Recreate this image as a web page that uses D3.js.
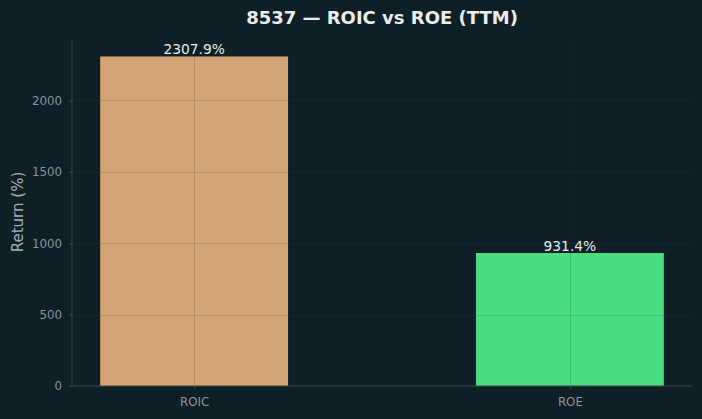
<!DOCTYPE html>
<html>
<head>
	<meta charset="utf-8">
	<style>
		body { margin: 0; background: #0f1f26; }
		svg { display: block; }
		svg text { font-family: 'DejaVu Sans', sans-serif; }
	</style>
</head>
<body>
	<div id="chart"></div>

	<script src="https://cdn.jsdelivr.net/npm/d3@7/dist/d3.min.js"></script>
	<script>
		const categories = ['ROIC', 'ROE'];
		const values = [2307.9, 931.4];
		const barColors = ['#d4a574', '#4ade80'];
		const yTicks = [0, 500, 1000, 1500, 2000];

		const W = 702;
		const H = 419;
		const margin = { left: 72, top: 40, right: 10, bottom: 33 };
		const w = W - margin.left - margin.right;
		const h = H - margin.top - margin.bottom;

		const svg = d3.select('#chart')
			.append('svg')
			.attr('width', W)
			.attr('height', H);

		svg.append('rect').attr('width', W).attr('height', H).attr('fill', '#0f1f26');

		const g = svg.append('g')
			.attr('transform', `translate(${margin.left}, ${margin.top})`);

		// bar positions 0..n-1, width 0.5, with 5% margins
		const x = d3.scaleLinear()
			.domain([-0.325, categories.length - 1 + 0.325])
			.range([0, w]);

		const y = d3.scaleLinear()
			.domain([0, d3.max(values) * 1.05])
			.range([h, 0]);

		const bw = x(0.5) - x(0);

		g.selectAll('rect.bar')
			.data(values)
			.enter()
			.append('rect')
			.attr('class', 'bar')
			.attr('x', (d, i) => x(i) - bw / 2)
			.attr('y', d => y(d))
			.attr('width', bw)
			.attr('height', d => h - y(d))
			.attr('fill', (d, i) => barColors[i]);

		// grid drawn over the bars
		const grid = g.append('g').attr('stroke', '#1a2a30').attr('stroke-opacity', 0.18).attr('stroke-width', 1);
		yTicks.forEach(t => {
			grid.append('line').attr('x1', 0).attr('x2', w).attr('y1', Math.round(y(t)) + 0.5).attr('y2', Math.round(y(t)) + 0.5);
		});
		categories.forEach((c, i) => {
			grid.append('line').attr('x1', Math.round(x(i)) + 0.5).attr('x2', Math.round(x(i)) + 0.5).attr('y1', 0).attr('y2', h);
		});
		// faint lighter line on dark background
		const grid2 = g.append('g').attr('stroke', '#ffffff').attr('stroke-opacity', 0.03).attr('stroke-width', 1);
		yTicks.forEach(t => {
			grid2.append('line').attr('x1', 0).attr('x2', w).attr('y1', Math.round(y(t)) + 0.5).attr('y2', Math.round(y(t)) + 0.5);
		});

		const yAxis = d3.axisLeft(y).tickValues(yTicks).tickFormat(d3.format('d')).tickSize(3.5).tickPadding(6.5);
		const xAxis = d3.axisBottom(x).tickValues(d3.range(categories.length))
			.tickFormat(i => categories[i]).tickSize(3.5).tickPadding(8);

		const styleAxis = sel => {
			sel.attr('font-family', null);
			sel.selectAll('path').attr('stroke', '#3b4449');
			sel.selectAll('line').attr('stroke', '#3b4449');
			sel.selectAll('text').attr('fill', '#8b959b').style('font-size', '11.8px');
		};

		g.append('g').call(yAxis).call(styleAxis).call(s => s.select('.domain').attr('d', `M0,${h}V0`));
		g.append('g').attr('transform', `translate(0, ${h})`).call(xAxis).call(styleAxis)
			.call(s => s.select('.domain').attr('d', `M0,0H${w}`));

		g.selectAll('text.val')
			.data(values)
			.enter()
			.append('text')
			.attr('class', 'val')
			.attr('x', (d, i) => x(i))
			.attr('y', d => y(d) - 2)
			.attr('text-anchor', 'middle')
			.attr('fill', '#e8eaea')
			.style('font-size', '13.8px')
			.text(d => d.toFixed(1) + '%');

		svg.append('text')
			.attr('x', margin.left + w / 2)
			.attr('y', 24)
			.attr('text-anchor', 'middle')
			.attr('fill', '#ececec')
			.style('font-size', '18px')
			.style('font-weight', 'bold')
			.text('8537 — ROIC vs ROE (TTM)');

		svg.append('text')
			.attr('transform', `translate(23, ${margin.top + h / 2 - 1}) rotate(-90)`)
			.attr('text-anchor', 'middle')
			.attr('fill', '#a6aeb3')
			.style('font-size', '15px')
			.text('Return (%)');
	</script>
</body>
</html>
